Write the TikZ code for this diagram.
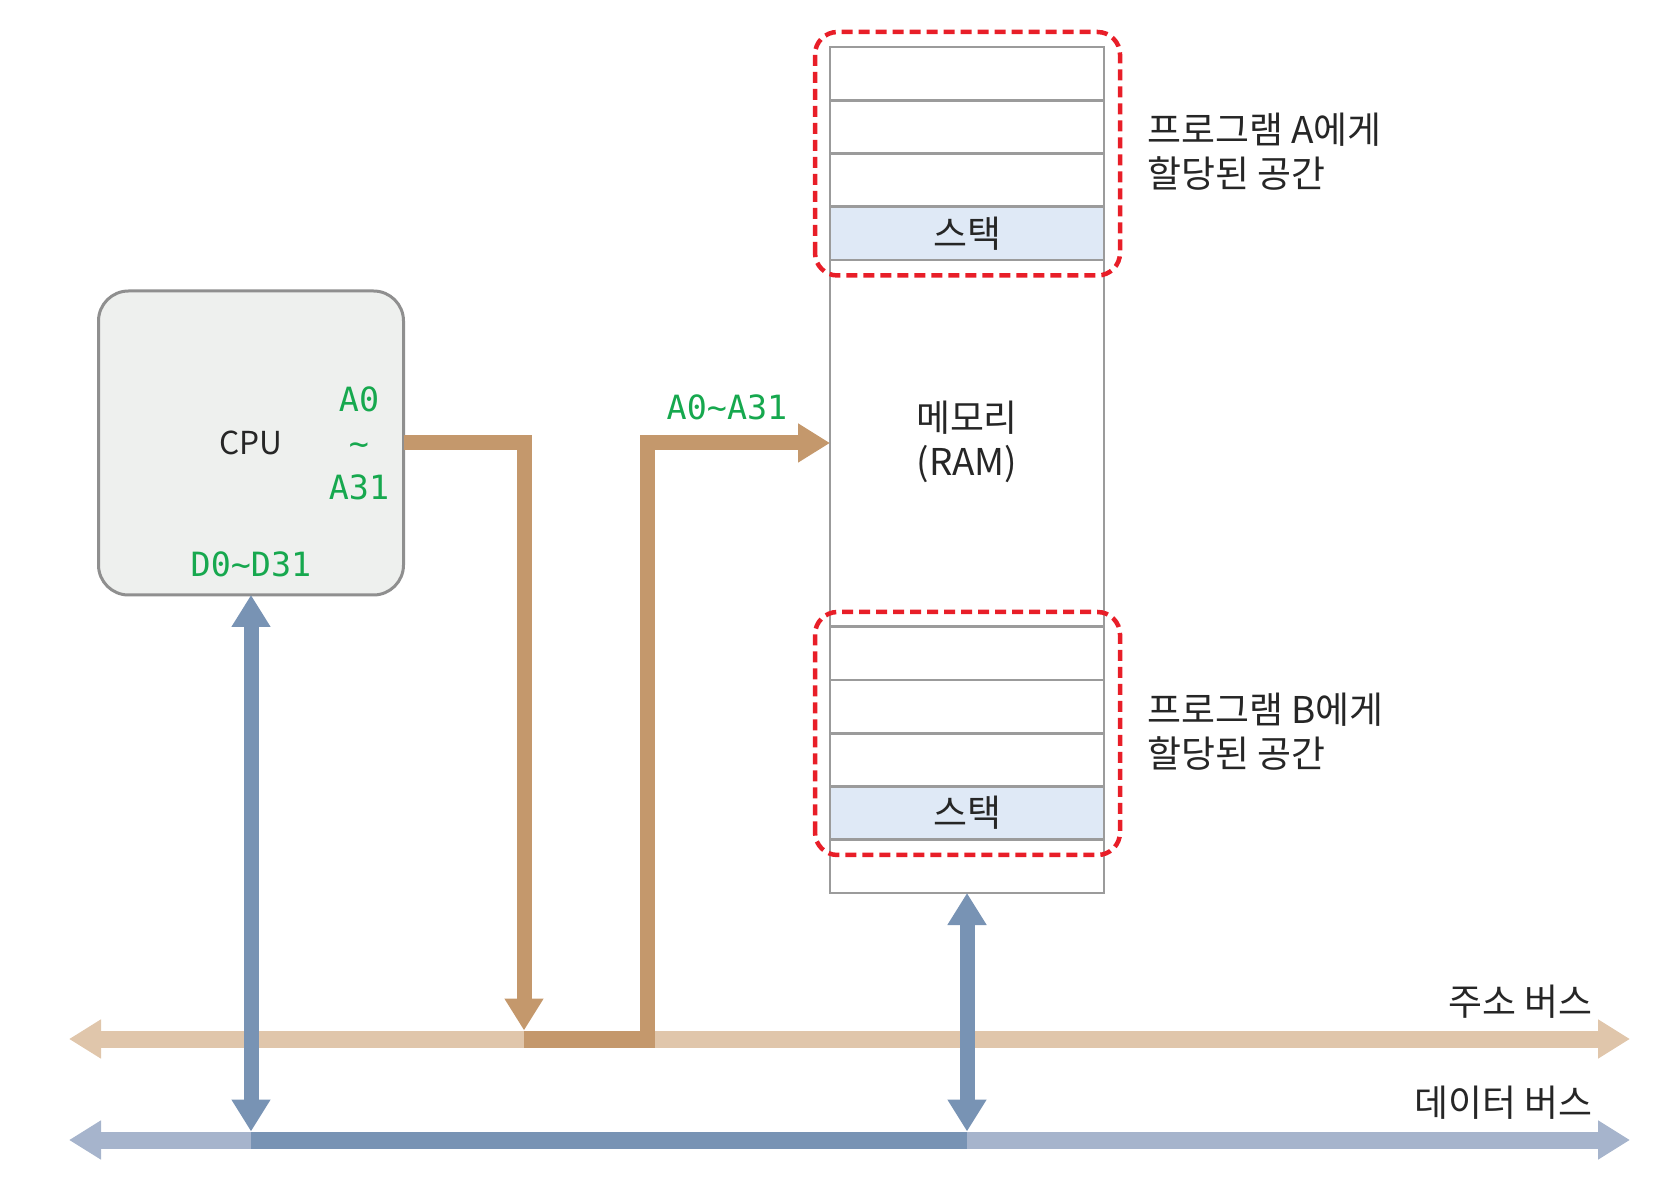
\documentclass[tikz,border=0pt]{standalone}
\usepackage{fontspec}
\setmainfont{Noto Sans CJK KR}
\setmonofont{DejaVu Sans Mono}
\usetikzlibrary{arrows.meta}

\definecolor{addrdark}{RGB}{196,152,108}
\definecolor{addrlight}{RGB}{224,198,171}
\definecolor{datadark}{RGB}{120,147,180}
\definecolor{datalight}{RGB}{166,180,204}
\definecolor{pingreen}{RGB}{22,168,78}
\definecolor{cpufill}{RGB}{238,240,238}
\definecolor{boxgray}{RGB}{143,143,143}
\definecolor{ramgray}{RGB}{155,155,155}
\definecolor{stackfill}{RGB}{223,233,246}
\definecolor{allocred}{RGB}{232,30,40}

\tikzset{
  bigtip/.tip={Triangle[width=0.74cm,length=0.64cm]},
  txt/.style={font=\fontsize{21}{25}\selectfont, text=black!85, align=center, inner sep=0pt},
  pin/.style={font=\ttfamily\fontsize{19}{25}\selectfont, text=pingreen, align=center, inner sep=0pt},
  cpubox/.style={draw=boxgray, fill=cpufill, line width=0.06cm, rounded corners=0.6cm,
    minimum width=6.1cm, minimum height=6.08cm, outer sep=0pt,
    font=\fontsize{18}{22}\selectfont, text=black!85},
  ramcol/.style={draw=ramgray, line width=0.055cm, minimum width=5.48cm,
    minimum height=16.92cm, outer sep=0pt, inner sep=0pt},
  stackcell/.style={draw=ramgray, fill=stackfill, line width=0.055cm, minimum width=5.48cm,
    minimum height=1.065cm, outer sep=0pt, inner sep=0pt, txt},
  ramline/.style={draw=ramgray, line width=0.055cm},
  allocbox/.style={draw=allocred, line width=0.09cm, rounded corners=0.45cm,
    dash pattern=on 0.22cm off 0.12cm},
  addrbus/.style={addrlight, line width=0.34cm, {bigtip}-{bigtip}},
  databus/.style={datalight, line width=0.34cm, {bigtip}-{bigtip}},
  addrwire/.style={addrdark, line width=0.3cm, miter limit=4},
  datawire/.style={datadark, line width=0.3cm},
}

\begin{document}
\begin{tikzpicture}
  \def\rh{1.065}
  \useasboundingbox (0,0) rectangle (33.52,23.84);

  % CPU
  \node[cpubox] (cpu) at (5.02,14.98) {CPU};
  \node[pin] (apins) at (7.18,14.98) {A0\\\textasciitilde\\A31};
  \node[pin] (dpins) at (5.02,12.56) {D0\textasciitilde D31};

  % RAM
  \node[ramcol] (ram) at (19.34,14.44) {};
  \foreach \k in {1,2,3}
    \draw[ramline] (ram.north west) ++(0,{-\k*\rh}) -- ++(5.48,0);
  \foreach \k in {3,4,5}
    \draw[ramline] (ram.south west) ++(0,{\k*\rh}) -- ++(5.48,0);
  \node[stackcell] (stackA) at (19.34,{22.90-3.5*\rh}) {스택};
  \node[stackcell] (stackB) at (19.34,{5.98+1.5*\rh}) {스택};
  \node[txt] (ramlbl) at (19.34,15.0) {메모리\\(RAM)};

  % allocated areas
  \draw[allocbox] (16.3,18.33) rectangle (22.4,23.2);
  \draw[allocbox] (16.3,6.74) rectangle (22.4,11.6);
  \node[txt, align=left, anchor=west] (progA) at (22.94,20.8) {프로그램 A에게\\할당된 공간};
  \node[txt, align=left, anchor=west] (progB) at (22.94,9.2) {프로그램 B에게\\할당된 공간};

  % BUSES
  \coordinate (ABw) at (1.38,3.06);
  \coordinate (ABe) at (32.6,3.06);
  \coordinate (DBw) at (1.38,1.04);
  \coordinate (DBe) at (32.6,1.04);
  \draw[addrbus] (ABw) -- (ABe);
  \draw[databus] (DBw) -- (DBe);
  \node[txt, anchor=east] (abl) at (31.86,3.8) {주소 버스};
  \node[txt, anchor=east] (dbl) at (31.86,1.78) {데이터 버스};

  % ADDRESS WIRES
  \coordinate (AT) at (10.48,3.23);
  \coordinate (AJ) at (10.48,3.06);
  \coordinate (AB) at (13.09,3.06);
  \coordinate (AK) at (12.94,14.98);
  \coordinate (RAMin) at (ram.west |- cpu.east);
  \draw[addrwire, line width=0.34cm] (AJ) -- (AB);
  \draw[addrwire,-{bigtip}] (cpu.east) -| (AT);
  \draw[addrwire,-{bigtip}] (AJ) -| (AK) -- (RAMin);
  \node[pin] (alabel) at (14.54,15.7) {A0\textasciitilde A31};

  % DATA WIRES
  \coordinate (DJ) at (5.02,1.21);
  \coordinate (DK) at (19.34,1.21);
  \coordinate (DS) at (5.02,1.04);
  \coordinate (DE) at (19.34,1.04);
  \draw[datawire, line width=0.34cm] (DS) -- (DE);
  \draw[datawire,{bigtip}-{bigtip}] (cpu.south) -- (DJ);
  \draw[datawire,{bigtip}-{bigtip}] (ram.south) -- (DK);
\end{tikzpicture}
\end{document}
